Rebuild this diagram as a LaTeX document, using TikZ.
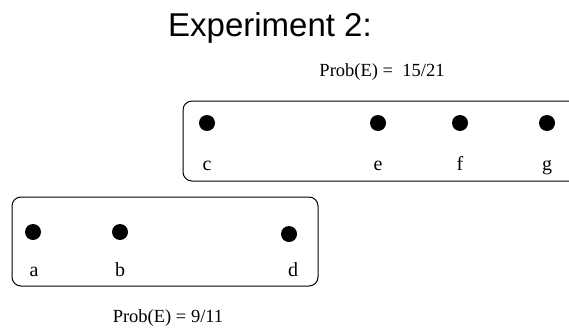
\documentclass[tikz,border=0pt]{standalone}
\usepackage{fontspec}
\setmainfont{Liberation Serif}
\newfontfamily\titlefont{Liberation Sans}
\tikzset{
  dot/.style={circle,fill=black,inner sep=0pt,minimum size=16pt},
  lbl/.style={inner sep=0pt,font=\fontsize{20}{22}\selectfont},
  prob/.style={inner sep=0pt,font=\fontsize{18.5}{21}\selectfont},
  box/.style={draw=black,line width=1pt,rounded corners=9pt}
}
\begin{document}
\begin{tikzpicture}[x=1pt,y=-1pt]
    % Khung hình
    \clip (0,0) rectangle (569,329);
    % Tiêu đề
    \node[inner sep=0pt,anchor=base,font=\titlefont\fontsize{33}{36}\selectfont] (title) at (270,37) {Experiment 2:};
    
    % Hộp trên
    \draw[box] (183,101) rectangle (590,181);
    \node[prob] (probtop) at (382,72) {Prob(E) =\ \ 15/21};
    \foreach \n/\x in {c/207,e/378,f/460,g/547}
    {
    \node[dot] (\n) at (\x,123) {};
    \node[lbl,anchor=base] (l\n) at (\x,170) {\n};
    }
    
    % Hộp dưới
    \draw[box] (12,197) rectangle (318,286);
    \node[prob] (probbot) at (168,318) {Prob(E) = 9/11};
    \foreach \n/\x/\y in {a/33/232,b/120/232,d/289/234}
    {
    \node[dot] (\n) at (\x,\y) {};
    }
    \foreach \n/\x in {a/34,b/120,d/293}
    \node[lbl,anchor=base] (l\n) at (\x,276) {\n};
\end{tikzpicture}
\end{document}
